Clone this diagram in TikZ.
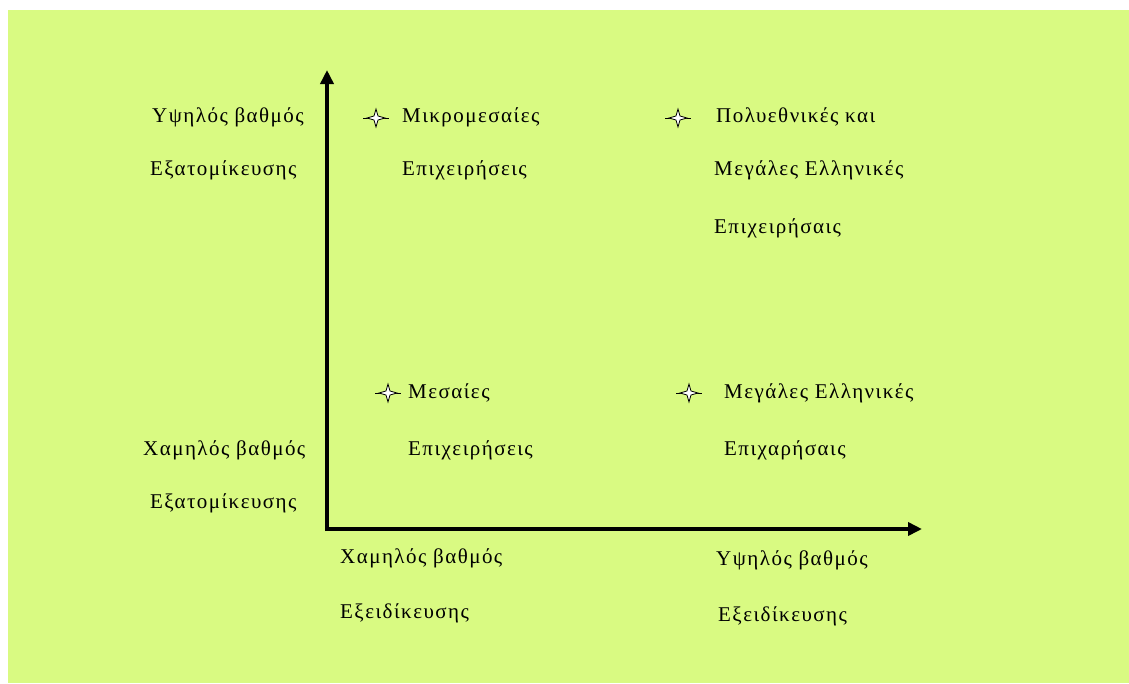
\documentclass[tikz,border=0pt]{standalone}
\usepackage{fontspec}
\setmainfont{Liberation Serif}
\newfontfamily\lblfont[LetterSpace=7]{Liberation Serif}
\usetikzlibrary{arrows.meta}
\definecolor{bggreen}{RGB}{217,250,130}
\tikzset{
  lbl/.style={anchor=west, inner sep=0pt, font=\lblfont\fontsize{21}{21}\selectfont, text=black},
  axis/.style={line width=3.6pt, -{Triangle[length=14pt,width=13pt]}},
  starmark/.pic={
    \draw[line width=0.8pt] (-13,0) -- (13,0);
    \draw[fill=white, line width=0.8pt] (-9,0) -- (-2,-2) -- (0,-9) -- (2,-2) -- (9,0) -- (2,2) -- (0,9) -- (-2,2) -- cycle;
  }
}
\begin{document}
\begin{tikzpicture}[x=1pt,y=-1pt]
\useasboundingbox (0,0) rectangle (1129,683);
\fill[white] (0,0) rectangle (1129,683);
\fill[bggreen] (8,10) rectangle (1129,683);

% axes
\coordinate (T) at (327,70);
\coordinate (Ov) at (327,531);
\coordinate (Oh) at (325,529);
\coordinate (R) at (922,529);
\draw[axis] (Ov) -- (T);
\draw[axis] (Oh) -- (R);

% left labels
\node[lbl] (yhi1) at (152,117) {Υψηλός βαθμός};
\node[lbl] (yhi2) at (150,170) {Εξατομίκευσης};
\node[lbl] (ylo1) at (143,450) {Χαμηλός βαθμός};
\node[lbl] (ylo2) at (150,503) {Εξατομίκευσης};

% bottom labels
\node[lbl] (xlo1) at (340,558) {Χαμηλός βαθμός};
\node[lbl] (xlo2) at (340,613) {Εξειδίκευσης};
\node[lbl] (xhi1) at (716,560) {Υψηλός βαθμός};
\node[lbl] (xhi2) at (718,616) {Εξειδίκευσης};

% quadrants
\pic at (376,118) {starmark};
\node[lbl] (q1a) at (402,117) {Μικρομεσαίες};
\node[lbl] (q1b) at (402,170) {Επιχειρήσεις};

\pic at (678,118) {starmark};
\node[lbl] (q2a) at (716,117) {Πολυεθνικές και};
\node[lbl] (q2b) at (714,170) {Μεγάλες Ελληνικές};
\node[lbl] (q2c) at (714,228) {Επιχειρήσαις};

\pic at (388,393) {starmark};
\node[lbl] (q3a) at (408,393) {Μεσαίες};
\node[lbl] (q3b) at (408,450) {Επιχειρήσεις};

\pic at (689,393) {starmark};
\node[lbl] (q4a) at (724,393) {Μεγάλες Ελληνικές};
\node[lbl] (q4b) at (724,450) {Επιχαρήσαις};
\end{tikzpicture}
\end{document}
